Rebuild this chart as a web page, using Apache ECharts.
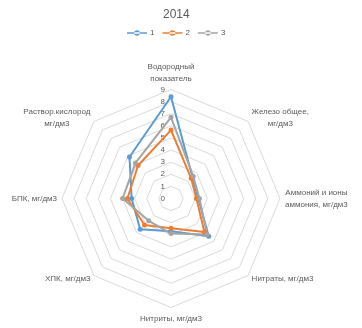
<!DOCTYPE html>
<html>
<head>
<meta charset="utf-8">
<script src="https://cdn.jsdelivr.net/npm/echarts@6/dist/echarts.min.js"></script>
<style>
  html, body { margin: 0; padding: 0; background: #fff; }
  #chart { width: 362px; height: 328px; }
</style>
</head>
<body>
<div id="chart"></div>
<script>
// Water quality indicators, listed clockwise starting from the top
const categories = [
  'Водородный\nпоказатель',
  'Железо общее,\nмг/дм3',
  'Аммоний и ионы\nаммония, мг/дм3',
  'Нитраты, мг/дм3',
  'Нитриты, мг/дм3',
  'ХПК, мг/дм3',
  'БПК, мг/дм3',
  'Раствор.кислород\nмг/дм3'
];
const seriesNames = ['1', '2', '3'];
const values1 = [8.4, 2.5, 2.25, 4.4, 2.7, 3.6, 3.25, 4.85];
const values2 = [5.65, 2.35, 2.1, 3.9, 2.45, 3.1, 3.6, 3.85];
const values3 = [6.7, 2.6, 2.35, 4.2, 2.9, 2.6, 4.0, 4.15];
const tickMax = 9;
const colors = ['#5B9BD5', '#ED7D31', '#A5A5A5'];

// ECharts lays radar indicators out counter-clockwise; reorder to run clockwise
function clockwise(arr) {
  return [arr[0]].concat(arr.slice(1).reverse());
}

const font = 'Liberation Sans, Arial, sans-serif';
const nameColor = '#595959';

function centeredLines(name) {
  return name.split('\n').map(function (l) { return '{c|' + l + '}'; }).join('\n');
}

const indicators = clockwise(categories).map(function (name, i) {
  const ind = { name: name, min: 0, max: tickMax };
  if (i === 0) {
    ind.axisLabel = { show: true };
  }
  return ind;
});

const legendIcon = 'path://M0,3.3h20v1.4h-20z M7.2,4a2.8,2.8 0 1,0 5.6,0a2.8,2.8 0 1,0 -5.6,0z';

const chart = echarts.init(document.getElementById('chart'), null, { renderer: 'canvas' });
chart.setOption({
  animation: false,
  title: {
    text: '2014',
    left: 158,
    top: 4,
    textStyle: { fontFamily: font, fontSize: 12, fontWeight: 'normal', color: '#595959' }
  },
  legend: {
    top: 24,
    left: 122,
    itemWidth: 20,
    itemHeight: 8,
    itemGap: 8,
    data: seriesNames.map(function (n) { return { name: n, icon: legendIcon }; }),
    textStyle: { fontFamily: font, fontSize: 8, color: '#595959', padding: [0, 0, 0, -2] }
  },
  radar: {
    center: [171, 198.5],
    radius: 109,
    startAngle: 90,
    shape: 'polygon',
    splitNumber: tickMax,
    nameGap: 5,
    indicator: indicators,
    axisName: {
      color: nameColor,
      fontFamily: font,
      fontSize: 8,
      lineHeight: 12,
      formatter: function (name) { return centeredLines(name); },
      rich: {
        c: { align: 'center', color: nameColor, fontFamily: font, fontSize: 8, lineHeight: 12 }
      }
    },
    axisLine: { show: false },
    axisTick: { show: false },
    axisLabel: {
      show: false,
      color: '#595959',
      fontFamily: font,
      fontSize: 8,
      margin: 6,
      showMinLabel: true,
      showMaxLabel: true
    },
    splitLine: { lineStyle: { color: '#D9D9D9', width: 1 } },
    splitArea: { show: false }
  },
  series: [{
    type: 'radar',
    symbol: 'circle',
    symbolSize: 5,
    lineStyle: { width: 2 },
    data: [values1, values2, values3].map(function (vals, i) {
      return {
        name: seriesNames[i],
        value: clockwise(vals),
        itemStyle: { color: colors[i] },
        lineStyle: { color: colors[i], width: 2 }
      };
    })
  }]
});
</script>
</body>
</html>
